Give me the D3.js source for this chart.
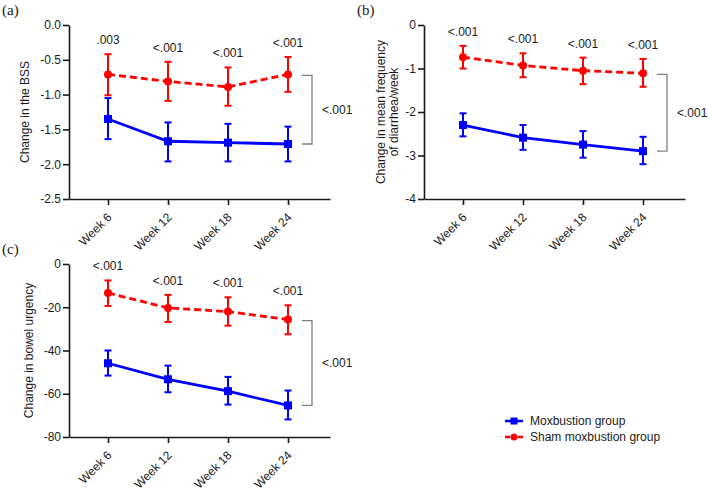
<!DOCTYPE html>
<html>
<head>
<meta charset="utf-8">
<script src="https://cdn.jsdelivr.net/npm/d3@7"></script>
<style>
  html, body { margin: 0; padding: 0; background: #fff; }
  svg { display: block; font-family: "Liberation Sans", Arial, sans-serif; }
</style>
</head>
<body>
<svg id="chart" width="709" height="490"></svg>
<script>
// ---------- data ----------
const weeks = ["Week 6", "Week 12", "Week 18", "Week 24"];

// (a) BSS
const bssMox      = [-1.35, -1.67, -1.69, -1.71];
const bssMoxHi    = [-1.05, -1.40, -1.42, -1.46];
const bssMoxLo    = [-1.64, -1.96, -1.96, -1.96];
const bssSham     = [-0.71, -0.81, -0.89, -0.71];
const bssShamHi   = [-0.42, -0.53, -0.61, -0.46];
const bssShamLo   = [-1.01, -1.09, -1.16, -0.96];
const bssP        = [".003", "<.001", "<.001", "<.001"];
const bssTicks    = [0, -0.5, -1.0, -1.5, -2.0, -2.5];

// (b) diarrhea frequency
const diaMox      = [-2.30, -2.59, -2.75, -2.90];
const diaMoxHi    = [-2.03, -2.30, -2.44, -2.57];
const diaMoxLo    = [-2.56, -2.87, -3.05, -3.20];
const diaSham     = [-0.74, -0.93, -1.05, -1.11];
const diaShamHi   = [-0.48, -0.65, -0.75, -0.78];
const diaShamLo   = [-1.00, -1.20, -1.36, -1.42];
const diaP        = ["<.001", "<.001", "<.001", "<.001"];
const diaTicks    = [0, -1, -2, -3, -4];

// (c) bowel urgency
const urgMox      = [-45.9, -53.3, -58.8, -65.4];
const urgMoxHi    = [-40.0, -47.0, -52.2, -58.5];
const urgMoxLo    = [-51.6, -59.3, -65.0, -71.9];
const urgSham     = [-13.4, -20.3, -22.0, -25.7];
const urgShamHi   = [-7.6, -14.3, -15.4, -19.1];
const urgShamLo   = [-19.4, -26.8, -28.5, -32.5];
const urgP        = ["<.001", "<.001", "<.001", "<.001"];
const urgTicks    = [0, -20, -40, -60, -80];

const overallP    = ["<.001", "<.001", "<.001"];
const legendNames = ["Moxbustion group", "Sham moxbustion group"];
const panelTags   = ["(a)", "(b)", "(c)"];

// ---------- styles ----------
const BLUE = "#0000ff", RED = "#ff0000", GREY = "#7f7f7f", INK = "#1a1a1a";

const panels = [
  { tag: panelTags[0], ox: 69, top: 25, bottom: 199, ticks: bssTicks, fmt: d => d.toFixed(1),
    ylabel: ["Change in the BSS"], ylabX: 29,
    mox: bssMox, moxHi: bssMoxHi, moxLo: bssMoxLo, sham: bssSham, shamHi: bssShamHi, shamLo: bssShamLo,
    p: bssP, overall: overallP[0], tagX: 2, tagY: 15 },
  { tag: panelTags[1], ox: 424, top: 25, bottom: 199, ticks: diaTicks, fmt: d => String(d),
    ylabel: ["Change in mean frequency", "of diarrhea/week"], ylabX: 384.5,
    mox: diaMox, moxHi: diaMoxHi, moxLo: diaMoxLo, sham: diaSham, shamHi: diaShamHi, shamLo: diaShamLo,
    p: diaP, overall: overallP[1], tagX: 357, tagY: 15 },
  { tag: panelTags[2], ox: 69, top: 264, bottom: 437, ticks: urgTicks, fmt: d => String(d),
    ylabel: ["Change in bowel urgency"], ylabX: 33,
    mox: urgMox, moxHi: urgMoxHi, moxLo: urgMoxLo, sham: urgSham, shamHi: urgShamHi, shamLo: urgShamLo,
    p: urgP, overall: overallP[2], tagX: 2, tagY: 254 }
];

const svg = d3.select("#chart");

panels.forEach(P => {
  const g = svg.append("g");
  const x = d3.scaleLinear().domain([-0.65, 3.7]).range([P.ox, P.ox + 261]);
  const y = d3.scaleLinear().domain([d3.max(P.ticks), d3.min(P.ticks)]).range([P.top, P.bottom]);

  // panel tag
  svg.append("text").attr("x", P.tagX).attr("y", P.tagY)
    .attr("font-family", "'Liberation Serif', 'Times New Roman', serif")
    .attr("font-size", 15).attr("fill", INK).text(P.tag);

  // y axis
  const ya = g.append("g").attr("transform", `translate(${P.ox},0)`)
    .call(d3.axisLeft(y).tickValues(P.ticks).tickFormat(P.fmt).tickSize(6).tickPadding(2).tickSizeOuter(0));
  ya.select(".domain").attr("stroke", INK).attr("stroke-width", 1.6);
  ya.selectAll(".tick line").attr("stroke", INK).attr("stroke-width", 1.6);
  ya.selectAll(".tick text").attr("font-size", 12).attr("fill", INK)
    .attr("font-family", "'Liberation Sans', Arial, sans-serif");

  // x axis
  const xa = g.append("g").attr("transform", `translate(0,${P.bottom})`)
    .call(d3.axisBottom(x).tickValues([0, 1, 2, 3]).tickFormat(i => weeks[i]).tickSize(6).tickSizeOuter(0));
  xa.select(".domain").attr("stroke", INK).attr("stroke-width", 1.6);
  xa.selectAll(".tick line").attr("stroke", INK).attr("stroke-width", 1.6);
  xa.selectAll(".tick text").attr("font-size", 12).attr("fill", INK)
    .attr("font-family", "'Liberation Sans', Arial, sans-serif")
    .attr("y", 0).attr("dy", 0).attr("x", 0)
    .attr("text-anchor", "end")
    .attr("transform", "translate(4,19) rotate(-45)");

  // y label
  const lab = g.append("text")
    .attr("transform", `translate(${P.ylabX},${(P.top + P.bottom) / 2}) rotate(-90)`)
    .attr("text-anchor", "middle").attr("font-size", 12).attr("fill", INK);
  P.ylabel.forEach((t, i) => {
    lab.append("tspan").attr("x", 0).attr("y", i * 13).text(t);
  });

  const idx = d3.range(weeks.length);

  // series drawing
  function series(vals, his, los, color, dashed, marker) {
    const eb = g.append("g").attr("stroke", color).attr("stroke-width", 2).attr("fill", "none");
    idx.forEach(i => {
      eb.append("line").attr("x1", x(i)).attr("x2", x(i)).attr("y1", y(his[i])).attr("y2", y(los[i]));
      eb.append("line").attr("x1", x(i) - 3.5).attr("x2", x(i) + 3.5).attr("y1", y(his[i])).attr("y2", y(his[i]));
      eb.append("line").attr("x1", x(i) - 3.5).attr("x2", x(i) + 3.5).attr("y1", y(los[i])).attr("y2", y(los[i]));
    });
    const line = d3.line().x(i => x(i)).y(i => y(vals[i]));
    g.append("path").datum(idx).attr("d", line)
      .attr("fill", "none").attr("stroke", color).attr("stroke-width", 2.8)
      .attr("stroke-dasharray", dashed ? "7,4" : null);
    idx.forEach(i => {
      if (marker === "square") {
        g.append("rect").attr("x", x(i) - 4).attr("y", y(vals[i]) - 4)
          .attr("width", 8).attr("height", 8).attr("fill", color);
      } else {
        g.append("circle").attr("cx", x(i)).attr("cy", y(vals[i])).attr("r", 4).attr("fill", color);
      }
    });
  }
  series(P.sham, P.shamHi, P.shamLo, RED, true, "circle");
  series(P.mox, P.moxHi, P.moxLo, BLUE, false, "square");

  // p-values per week
  idx.forEach(i => {
    const top = Math.max(P.shamHi[i], P.moxHi[i]);
    g.append("text").attr("x", x(i)).attr("y", y(top) - 10)
      .attr("text-anchor", "middle").attr("font-size", 12).attr("fill", INK).text(P.p[i]);
  });

  // overall bracket
  const last = weeks.length - 1;
  const bx = x(last), yT = y(P.sham[last]) + 1, yB = y(P.mox[last]);
  g.append("path")
    .attr("d", `M${bx + 14},${yT}H${bx + 24}V${yB}H${bx + 14}`)
    .attr("fill", "none").attr("stroke", GREY).attr("stroke-width", 1.3);
  g.append("text").attr("x", bx + 34).attr("y", (yT + yB) / 2).attr("dy", "0.35em")
    .attr("font-size", 12).attr("fill", INK).text(P.overall);
});

// ---------- legend ----------
const lg = svg.append("g");
const legendItems = [
  { name: legendNames[0], color: BLUE, dashed: false, marker: "square", y: 421 },
  { name: legendNames[1], color: RED, dashed: true, marker: "circle", y: 437 }
];
legendItems.forEach(L => {
  if (L.dashed) {
    lg.append("line").attr("x1", 505).attr("x2", 510).attr("y1", L.y).attr("y2", L.y)
      .attr("stroke", L.color).attr("stroke-width", 2.5);
    lg.append("line").attr("x1", 518).attr("x2", 523).attr("y1", L.y).attr("y2", L.y)
      .attr("stroke", L.color).attr("stroke-width", 2.5);
  } else {
    lg.append("line").attr("x1", 505).attr("x2", 523).attr("y1", L.y).attr("y2", L.y)
      .attr("stroke", L.color).attr("stroke-width", 2.5);
  }
  if (L.marker === "square") {
    lg.append("rect").attr("x", 510.5).attr("y", L.y - 3.5).attr("width", 7).attr("height", 7).attr("fill", L.color);
  } else {
    lg.append("circle").attr("cx", 514).attr("cy", L.y).attr("r", 3.5).attr("fill", L.color);
  }
  lg.append("text").attr("x", 530).attr("y", L.y).attr("dy", "0.35em")
    .attr("font-size", 12).attr("fill", INK).text(L.name);
});
</script>
</body>
</html>
